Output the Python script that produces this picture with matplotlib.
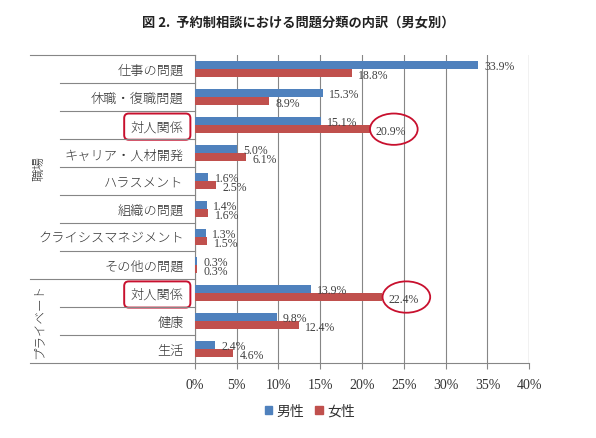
import numpy as np
import matplotlib
matplotlib.use('Agg')
import matplotlib.pyplot as plt
from matplotlib.patches import Ellipse, Patch

plt.rcParams['font.family'] = ['Noto Sans CJK JP', 'DejaVu Sans']

# data
categories = ['仕事の問題', '休職・復職問題', '対人関係', 'キャリア・人材開発', 'ハラスメント',
              '組織の問題', 'クライシスマネジメント', 'その他の問題',
              '対人関係', '健康', '生活']
male = [33.9, 15.3, 15.1, 5.0, 1.6, 1.4, 1.3, 0.3, 13.9, 9.8, 2.4]
female = [18.8, 8.9, 20.9, 6.1, 2.5, 1.6, 1.5, 0.3, 22.4, 12.4, 4.6]
groups = [('職場', 0, 8), ('プライベート', 8, 11)]
boxed = [2, 8]      # labels with red frame
circled = [2, 8]    # female values with red circle
xticks = [0, 5, 10, 15, 20, 25, 30, 35, 40]

blue = '#4F81BD'
red = '#C0504D'
grey = '#868686'

fig = plt.figure(figsize=(5.96, 4.39), dpi=100)
ax = fig.add_axes([0.327, 0.171, 0.561, 0.701])

y = np.arange(len(categories))
h = 0.29
ax.barh(y - h / 2, male, height=h, color=blue, zorder=3)
ax.barh(y + h / 2, female, height=h, color=red, zorder=3)

for i in range(len(categories)):
    ax.annotate(f'{male[i]:.1f}%', (male[i], y[i] - h / 2), xytext=(4.5, -0.5),
                textcoords='offset points', va='center', ha='left',
                fontsize=8.5, family='Liberation Serif', color='#404040')
    ax.annotate(f'{female[i]:.1f}%', (female[i], y[i] + h / 2), xytext=(4.5, -1.5),
                textcoords='offset points', va='center', ha='left',
                fontsize=8.5, family='Liberation Serif', color='#404040')

for i in circled:
    ax.add_patch(Ellipse((female[i] + 2.9, y[i] + h / 2), 5.7, 1.12,
                         fill=False, ec='#C8102E', lw=1.3, zorder=5, clip_on=False))

ax.set_xlim(0, 40)
ax.set_ylim(len(categories) - 0.5, -0.5)
ax.set_xticks(xticks)
ax.set_xticklabels([f'{t}%' for t in xticks], family='Liberation Serif', fontsize=10, color='#333333')
ax.set_yticks(y)
ax.set_yticklabels(categories, fontsize=9.5, color='#333333', fontweight='light')
ax.tick_params(axis='y', length=0, pad=8)
ax.tick_params(axis='x', length=4, color=grey, pad=7)

ax.grid(axis='x', color=grey, lw=0.8, zorder=0)
ax.axvline(40, color=grey, lw=0.8, zorder=0)
for s in ['top', 'right']:
    ax.spines[s].set_visible(False)
for s in ['left', 'bottom']:
    ax.spines[s].set_color(grey)
    ax.spines[s].set_linewidth(0.8)

for i in boxed:
    lab = ax.get_yticklabels()[i]
    lab.set_bbox(dict(boxstyle='round,pad=0.5,rounding_size=0.35', fc='none', ec='#C8102E', lw=1.4))

# category table lines on the left
tr = ax.get_yaxis_transform()
bounds = [g[1] for g in groups] + [len(categories)]
for b in range(len(categories) + 1):
    x0 = -0.494 if b in bounds else -0.404
    ax.plot([x0, 0], [b - 0.5, b - 0.5], transform=tr, color=grey, lw=0.8, clip_on=False)

for name, a, b in groups:
    ax.text(-0.465, (a + b - 1) / 2, name, transform=tr, rotation=90,
            ha='center', va='center', fontsize=9, color='#333333', fontweight='light')

fig.text(0.5, 0.948, '図 2.  予約制相談における問題分類の内訳（男女別）',
         ha='center', va='center', fontsize=9.5, fontweight='bold', color='#222222')

handles = [Patch(color=blue, label='男性'), Patch(color=red, label='女性')]
fig.legend(handles=handles, loc='center', bbox_to_anchor=(0.52, 0.062), ncol=2,
           frameon=False, fontsize=10, handlelength=0.55, handleheight=0.55,
           handletextpad=0.3, columnspacing=0.8, labelcolor='#333333')

fig.savefig('out.png', dpi=100)
